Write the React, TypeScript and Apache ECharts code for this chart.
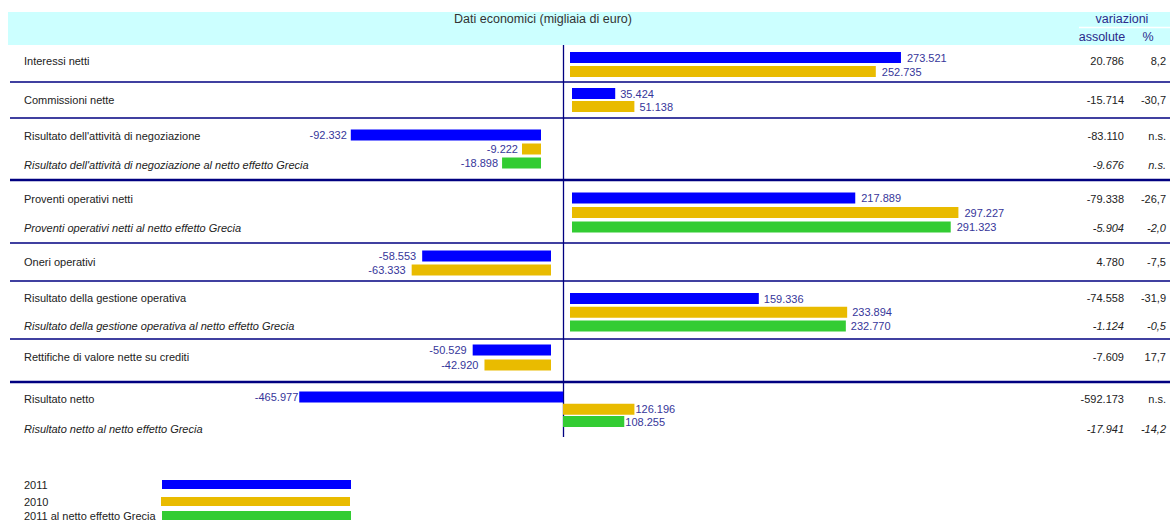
import React, { useEffect, useRef } from "react";
import * as echarts from "echarts";

// ---- data ----
const sectionNames = [
  "Interessi netti",
  "Commissioni nette",
  "Risultato dell'attività di negoziazione",
  "Proventi operativi netti",
  "Oneri operativi",
  "Risultato della gestione operativa",
  "Rettifiche di valore nette su crediti",
  "Risultato netto",
];
const v2011 = [273521, 35424, -92332, 217889, -58553, 159336, -50529, -465977];
const v2010 = [252735, 51138, -9222, 297227, -63333, 233894, -42920, 126196];
const v2011Greece: (number | null)[] = [null, null, -18898, 291323, null, 232770, null, 108255];
const seriesNames = ["2011", "2010", "2011 al netto effetto Grecia"];

const rowLabels = [
  "Interessi netti",
  "Commissioni nette",
  "Risultato dell'attività di negoziazione",
  "Risultato dell'attività di negoziazione al netto effetto Grecia",
  "Proventi operativi netti",
  "Proventi operativi netti al netto effetto Grecia",
  "Oneri operativi",
  "Risultato della gestione operativa",
  "Risultato della gestione operativa al netto effetto Grecia",
  "Rettifiche di valore nette su crediti",
  "Risultato netto",
  "Risultato netto al netto effetto Grecia",
];
const rowItalic = [false, false, false, true, false, true, false, false, true, false, false, true];
const absChange = [20786, -15714, -83110, -9676, -79338, -5904, 4780, -74558, -1124, -7609, -592173, -17941];
const pctChange: (number | null)[] = [8.2, -30.7, null, null, -26.7, -2.0, -7.5, -31.9, -0.5, 17.7, null, -14.2];

const headerTitle = "Dati economici (migliaia di euro)";
const headerVar = "variazioni";
const headerAbs = "assolute";
const headerPct = "%";

// ---- layout (positions / sizes) ----
const secZeroX = [570, 572, 541, 572, 551, 570, 551, 563];
const secPxPer1000 = [1.21, 1.22, 2.06, 1.3, 2.2, 1.185, 1.55, 0.566];
const secFirstBarY = [57.5, 93.5, 135, 198, 256, 298.5, 350, 397];
const secStep = [14, 13, 14, 14.5, 14, 13.75, 15, 12.25];
const secLabelDist = [6, 5, 4, 6, 6, 5, 6, 1];
const rowY = [61, 100, 136, 165, 199, 228, 262, 298, 326, 357, 399, 429];
const thinSeps = [82, 118, 243, 281, 339];
const thickSeps = [180, 382];
const GRID_L = 10;
const GRID_R = 1060;

const colors = ["#0000FF", "#E9BB00", "#33CC33"];
const NAVY = "#000080";
const LABEL_BLUE = "#36369a";
const FONT = "'Liberation Sans', Arial, Helvetica, sans-serif";

const fmtK = (v: number) => {
  const s = Math.abs(v).toString().replace(/\B(?=(\d{3})+(?!\d))/g, ".");
  return (v < 0 ? "-" : "") + s;
};
const fmtPct = (v: number | null) => (v === null ? "n.s." : v.toFixed(1).replace(".", ","));

export default function App() {
  const ref = useRef<HTMLDivElement>(null);

  useEffect(() => {
    if (!ref.current) return;
    const chart = echarts.init(ref.current, null, { renderer: "svg" });

    const grids: any[] = [];
    const xAxes: any[] = [];
    const yAxes: any[] = [];
    const series: any[] = [];

    sectionNames.forEach((name, s) => {
      const vals = [v2011[s], v2010[s], v2011Greece[s]];
      const n = vals[2] === null ? 2 : 3;
      const step = secStep[s];
      const top = secFirstBarY[s] - step / 2;
      const zero = secZeroX[s];
      const k = secPxPer1000[s] / 1000;
      grids.push({ left: GRID_L, width: GRID_R - GRID_L, top, height: step * n, containLabel: false });
      xAxes.push({
        type: "value",
        gridIndex: s,
        min: -(zero - GRID_L) / k,
        max: (GRID_R - zero) / k,
        show: false,
        splitLine: { show: false },
      });
      yAxes.push({
        type: "category",
        gridIndex: s,
        inverse: true,
        data: seriesNames.slice(0, n),
        show: false,
      });
      series.push({
        type: "bar",
        name,
        xAxisIndex: s,
        yAxisIndex: s,
        barWidth: 11,
        data: vals.slice(0, n).map((v, i) => ({
          value: v,
          itemStyle: { color: colors[i] },
          label: { position: (v as number) < 0 ? "left" : "right" },
        })),
        label: {
          show: true,
          distance: secLabelDist[s],
          fontSize: 11,
          fontFamily: FONT,
          color: LABEL_BLUE,
          formatter: (p: any) => fmtK(p.value),
        },
      });
    });

    const graphic: any[] = [];
    // header band
    graphic.push({ type: "rect", shape: { x: 8, y: 12, width: 1162, height: 33 }, style: { fill: "#CCFFFF" }, z: -1 });
    graphic.push({ type: "line", shape: { x1: 1079, y1: 27.5, x2: 1170, y2: 27.5 }, style: { stroke: "#ffffff", lineWidth: 1.5 } });
    graphic.push({ type: "text", style: { text: headerTitle, x: 543, y: 19, align: "center", verticalAlign: "middle", fontSize: 12.5, fontFamily: FONT, fill: "#333333" } });
    graphic.push({ type: "text", style: { text: headerVar, x: 1122, y: 19, align: "center", verticalAlign: "middle", fontSize: 12.5, fontFamily: FONT, fill: "#2a2a8a" } });
    graphic.push({ type: "text", style: { text: headerAbs, x: 1102, y: 37, align: "center", verticalAlign: "middle", fontSize: 12.5, fontFamily: FONT, fill: "#2a2a8a" } });
    graphic.push({ type: "text", style: { text: headerPct, x: 1148, y: 37, align: "center", verticalAlign: "middle", fontSize: 12.5, fontFamily: FONT, fill: "#2a2a8a" } });

    // separators
    thinSeps.forEach((y) =>
      graphic.push({ type: "line", shape: { x1: 10, y1: y, x2: 1170, y2: y }, style: { stroke: NAVY, lineWidth: 1.3 } })
    );
    thickSeps.forEach((y) =>
      graphic.push({ type: "line", shape: { x1: 10, y1: y, x2: 1170, y2: y }, style: { stroke: NAVY, lineWidth: 2.5 } })
    );
    graphic.push({ type: "line", shape: { x1: 563.5, y1: 45, x2: 563.5, y2: 437 }, style: { stroke: NAVY, lineWidth: 1.3 } });

    // row labels and change columns
    rowLabels.forEach((t, i) => {
      const fs = rowItalic[i] ? "italic" : "normal";
      graphic.push({ type: "text", style: { text: t, x: 24, y: rowY[i], align: "left", verticalAlign: "middle", fontSize: 11, fontStyle: fs, fontFamily: FONT, fill: "#222222" } });
      graphic.push({ type: "text", style: { text: fmtK(absChange[i]), x: 1124, y: rowY[i], align: "right", verticalAlign: "middle", fontSize: 11, fontStyle: fs, fontFamily: FONT, fill: "#222222" } });
      graphic.push({ type: "text", style: { text: fmtPct(pctChange[i]), x: 1166, y: rowY[i], align: "right", verticalAlign: "middle", fontSize: 11, fontStyle: fs, fontFamily: FONT, fill: "#222222" } });
    });

    // legend
    const legY = [485, 502, 516];
    const legBarY = [485, 502, 516];
    const legX = [162, 161, 162];
    seriesNames.forEach((nm, i) => {
      graphic.push({ type: "text", style: { text: nm, x: 24, y: legY[i], align: "left", verticalAlign: "middle", fontSize: 11, fontFamily: FONT, fill: "#222222" } });
      graphic.push({ type: "rect", shape: { x: legX[i], y: legBarY[i] - 5, width: 189, height: 9 }, style: { fill: colors[i] } });
    });

    chart.setOption({
      animation: false,
      backgroundColor: "#ffffff",
      grid: grids,
      xAxis: xAxes,
      yAxis: yAxes,
      series,
      graphic,
    });

    return () => chart.dispose();
  }, []);

  return <div ref={ref} style={{ position: "absolute", left: 0, top: 0, width: 1170, height: 524 }} />;
}
